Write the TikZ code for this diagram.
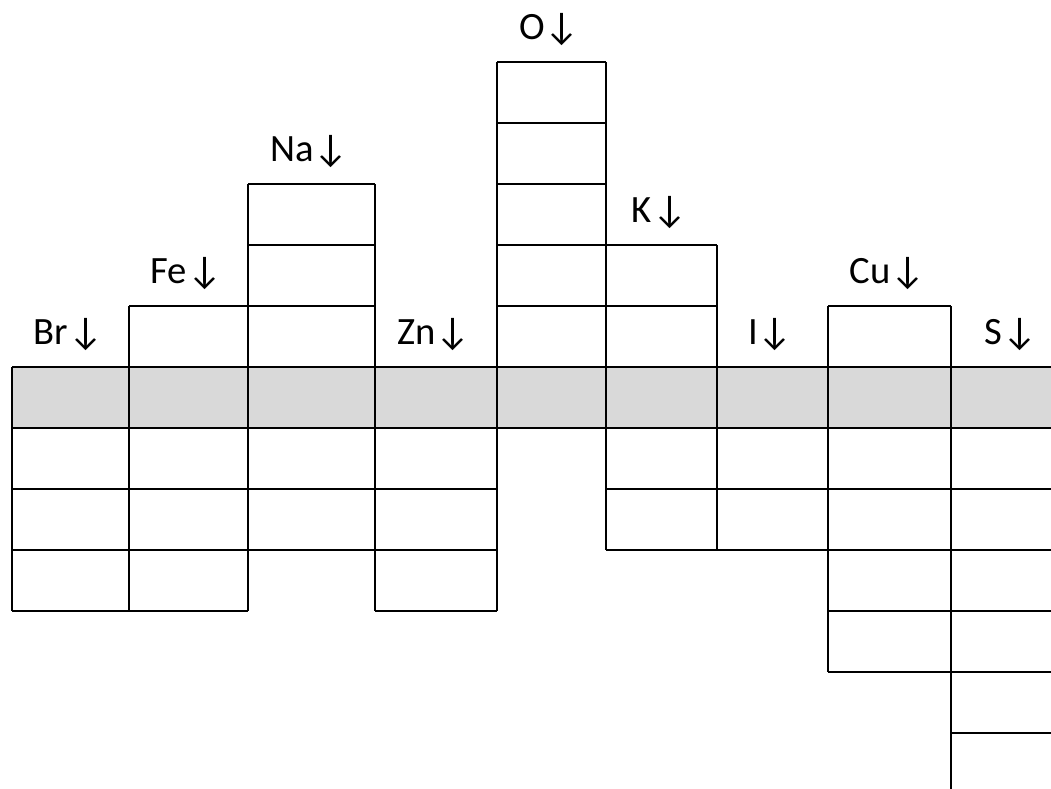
\documentclass[tikz,border=0pt]{standalone}
\usepackage{fontspec}
\setmainfont{Carlito}
\usepackage{xcolor}
\definecolor{rowgray}{HTML}{D9D9D9}

\begin{document}
\begin{tikzpicture}[x=0.02cm, y=-0.02cm, line width=1pt,
    lbl/.style={anchor=base, inner sep=0pt, font=\fontsize{22}{26}\selectfont}]
            \useasboundingbox (0,0) rectangle (1051,788);
            \clip (0,0) rectangle (1051,788);

            % shaded row
            \fill[rowgray] (12,367) rectangle (1060,428);

            % columns: left/right/first row/last row/name
            \foreach \xl/\xr/\ta/\tb/\nm in {12/129/5/9/Br, 129/248/4/9/Fe,
                248/375/2/8/Na, 375/497/5/9/Zn, 497/606/0/6/O,
                606/717/3/8/K, 717/828/5/8/I, 828/951/4/10/Cu, 951/1075/5/13/S}{
                \foreach \r in {\ta,...,\tb}
                    \draw (\xl,{62+61*\r}) -- (\xr,{62+61*\r});
                \draw (\xl,{62+61*\ta}) -- (\xl,{62+61*\tb});
                \draw (\xr,{62+61*\ta}) -- (\xr,{62+61*\tb});
                \node[lbl] (lbl-\nm) at ({(\xl+\xr)/2-2},{62+61*\ta-23}) {\nm↓};
            }
        \end{tikzpicture}
\end{document}
